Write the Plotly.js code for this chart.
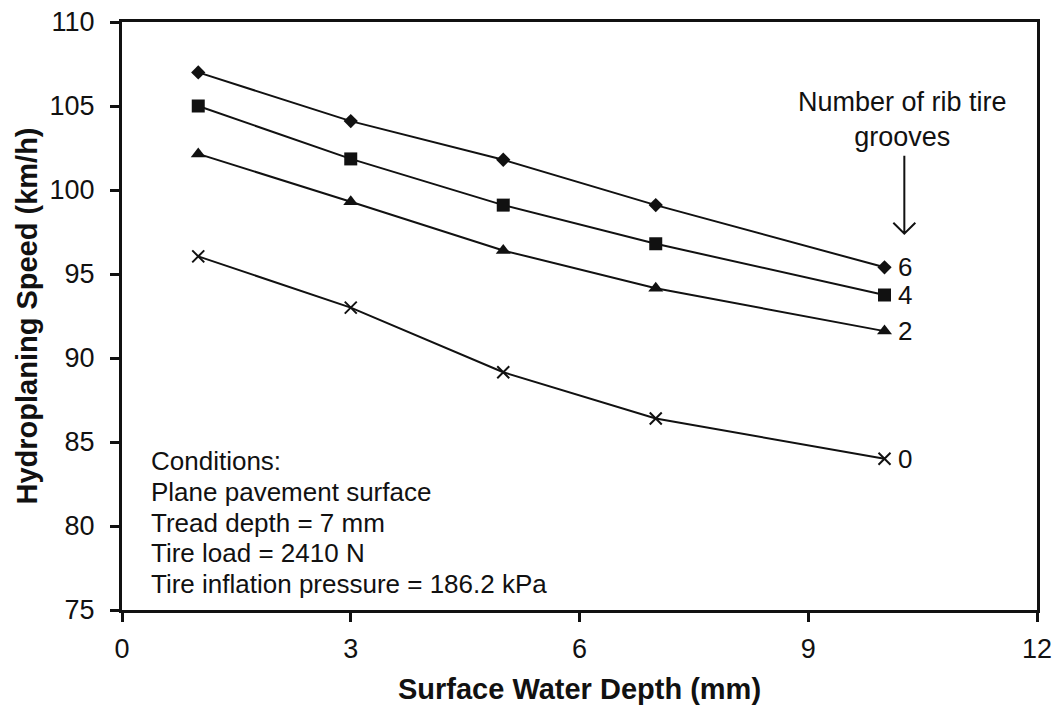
<!DOCTYPE html>
<html>
<head>
<meta charset="utf-8">
<script src="https://cdn.plot.ly/plotly-3.0.1.min.js"></script>
<style>
  html, body { margin: 0; padding: 0; background: #fff; }
  #chart { width: 1057px; height: 706px; }
</style>
</head>
<body>
<div id="chart"></div>
<script>
// ---- data ----
const depth = [1, 3, 5, 7, 10];
const grooves6 = [107.0, 104.1, 101.8, 99.1, 95.4];
const grooves4 = [105.0, 101.85, 99.1, 96.8, 93.75];
const grooves2 = [102.15, 99.3, 96.4, 94.15, 91.6];
const grooves0 = [96.05, 93.0, 89.15, 86.4, 84.0];
const seriesLabels = ['6', '4', '2', '0'];
const xTicks = [0, 3, 6, 9, 12];
const yTicks = [75, 80, 85, 90, 95, 100, 105, 110];
const conditionLines = [
  'Conditions:',
  'Plane pavement surface',
  'Tread depth = 7 mm',
  'Tire load = 2410 N',
  'Tire inflation pressure = 186.2 kPa'
];
const legendTitle = 'Number of rib tire<br>grooves';

const FONT = 'Liberation Sans, Arial, Helvetica, sans-serif';
const INK = '#111111';

const series = [
  { y: grooves6, symbol: 'diamond', size: 11 },
  { y: grooves4, symbol: 'square', size: 13 },
  { y: grooves2, symbol: 'triangle-up', size: 13 },
  { y: grooves0, symbol: 'x-thin', size: 12 }
];

const traces = series.map((s, i) => ({
  type: 'scatter',
  mode: 'lines+markers',
  x: depth,
  y: s.y,
  name: seriesLabels[i],
  line: { color: INK, width: 2 },
  marker: {
    symbol: s.symbol,
    size: s.size,
    color: INK,
    line: { color: INK, width: s.symbol === 'x-thin' ? 2 : 0 }
  },
  showlegend: false,
  hoverinfo: 'x+y'
}));

const annotations = [];
// end-of-line labels
series.forEach((s, i) => {
  annotations.push({
    x: depth[depth.length - 1],
    y: s.y[s.y.length - 1],
    xref: 'x', yref: 'y',
    text: seriesLabels[i],
    showarrow: false,
    xanchor: 'left', yanchor: 'middle',
    xshift: 11,
    font: { family: FONT, size: 26, color: INK }
  });
});
// legend-like title
annotations.push({
  x: 10.24, y: 104.17, xref: 'x', yref: 'y',
  text: legendTitle,
  showarrow: false,
  xanchor: 'center', yanchor: 'middle',
  font: { family: FONT, size: 27, color: INK }
});
// conditions block
conditionLines.forEach((t, i) => {
  annotations.push({
    x: 0.354, y: 83.87 - i * 1.835, xref: 'x', yref: 'y',
    text: t,
    showarrow: false,
    xanchor: 'left', yanchor: 'middle',
    font: { family: FONT, size: 26, color: INK }
  });
});

// open "V" arrow pointing down at the group of line labels
const shapes = [{
  type: 'path',
  xref: 'x', yref: 'y',
  xsizemode: 'pixel', ysizemode: 'pixel',
  xanchor: 10.26, yanchor: 97.4,
  path: 'M0,78 L0,1 M-11,11 L0,0 L11,11',
  line: { color: INK, width: 2 }
}];

const layout = {
  width: 1057,
  height: 706,
  margin: { l: 122, r: 20, t: 22, b: 96, pad: 0 },
  paper_bgcolor: '#ffffff',
  plot_bgcolor: '#ffffff',
  showlegend: false,
  font: { family: FONT, size: 26, color: INK },
  xaxis: {
    range: [0, 12],
    tickvals: xTicks,
    ticktext: xTicks.map(String),
    ticks: 'outside',
    ticklen: 9,
    tickwidth: 3,
    tickcolor: INK,
    showline: true,
    linewidth: 3,
    linecolor: INK,
    mirror: true,
    showgrid: false,
    zeroline: false,
    ticklabelstandoff: 4,
    tickfont: { family: FONT, size: 27, color: INK },
    title: {
      text: 'Surface Water Depth (mm)',
      font: { family: FONT, size: 29, color: INK, weight: 'bold' },
      standoff: 16
    },
    automargin: false
  },
  yaxis: {
    range: [75, 110],
    tickvals: yTicks,
    ticktext: yTicks.map(String),
    ticks: 'outside',
    ticklen: 9,
    tickwidth: 3,
    tickcolor: INK,
    showline: true,
    linewidth: 3,
    linecolor: INK,
    mirror: true,
    showgrid: false,
    zeroline: false,
    ticklabelstandoff: 10,
    tickfont: { family: FONT, size: 27, color: INK },
    title: {
      text: 'Hydroplaning Speed (km/h)',
      font: { family: FONT, size: 29, color: INK, weight: 'bold' },
      standoff: 4
    },
    automargin: false
  },
  annotations: annotations,
  shapes: shapes
};

Plotly.newPlot('chart', traces, layout, { displayModeBar: false, staticPlot: true });
</script>
</body>
</html>
